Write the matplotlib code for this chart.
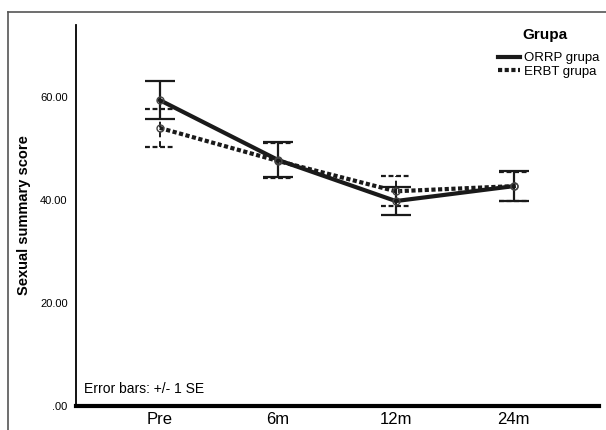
import matplotlib
matplotlib.use("Agg")
import matplotlib.pyplot as plt
from matplotlib.lines import Line2D

# data
times = ["Pre", "6m", "12m", "24m"]
orrp_mean = [59.4, 47.8, 39.8, 42.7]
orrp_se = [3.7, 3.4, 2.8, 2.9]
erbt_mean = [54.0, 47.6, 41.7, 42.7]
erbt_se = [3.7, 3.4, 2.9, 2.8]
yticks = [0, 20, 40, 60]
ytick_labels = [".00", "20.00", "40.00", "60.00"]

plt.rcParams['font.family'] = ['Liberation Sans', 'DejaVu Sans']

fig = plt.figure(figsize=(6.06, 4.30), dpi=100)
ax = fig.add_axes([0.1254, 0.0558, 0.8626, 0.8862])

# outer frame lines
fig.add_artist(Line2D([8 / 606, 8 / 606], [0, 1 - 12 / 430], transform=fig.transFigure,
                      color="#555555", lw=1.2))
fig.add_artist(Line2D([8 / 606, 1], [1 - 12 / 430, 1 - 12 / 430], transform=fig.transFigure,
                      color="#555555", lw=1.2))

x = list(range(len(times)))

# ORRP
ax.errorbar(x, orrp_mean, yerr=orrp_se, fmt="none", ecolor="#1a1a1a", elinewidth=1.6,
            capsize=10.5, capthick=1.6, zorder=3)
ax.plot(x, orrp_mean, color="#1a1a1a", lw=3, ls="-", zorder=4,
        marker="o", ms=5, mfc="none", mec="#444444", mew=1.0)

# ERBT, dashed bars and caps
eb = ax.errorbar(x, erbt_mean, yerr=erbt_se, fmt="none", ecolor="#1a1a1a", elinewidth=1.4,
                 capsize=0, zorder=3)
for c in eb[2]:
    c.set_linestyle((0, (3, 2)))
for xi, m, s in zip(x, erbt_mean, erbt_se):
    for yv in (m - s, m + s):
        ax.plot([xi - 0.125, xi + 0.125], [yv, yv], color="#1a1a1a", lw=1.6,
                ls=(0, (2.2, 1.2)), zorder=3)
ax.plot(x, erbt_mean, color="#1a1a1a", lw=3, ls=(0, (1, 0.6)), zorder=4,
        marker="o", ms=5, mfc="none", mec="#444444", mew=1.0)

ax.set_xlim(-0.71, 3.72)
ax.set_ylim(0, 74)
ax.set_xticks(x)
ax.set_xticklabels(times, fontsize=12)
ax.set_yticks(yticks)
ax.set_yticklabels(ytick_labels, fontsize=8)
ax.tick_params(axis="both", length=0, pad=4)
ax.tick_params(axis="y", pad=6)
ax.spines["top"].set_visible(False)
ax.spines["right"].set_visible(False)
ax.spines["left"].set_linewidth(1.3)
ax.spines["bottom"].set_linewidth(3)
ax.set_ylabel("Sexual summary score", fontsize=10.5, fontweight="bold")
ax.yaxis.set_label_coords(-0.087, 0.5)

ax.text(0.015, 0.025, "Error bars: +/- 1 SE", transform=ax.transAxes, fontsize=10,
        ha="left", va="bottom")

# legend
fig.text(545 / 606, 1 - 35 / 430, "Grupa", fontsize=11, fontweight="bold",
         ha="center", va="center")
handles = [Line2D([], [], color="#1a1a1a", lw=3, ls="-"),
           Line2D([], [], color="#1a1a1a", lw=3, ls=(0, (1, 0.6)))]
ax.legend(handles, ["ORRP grupa", "ERBT grupa"], loc="upper left",
          bbox_to_anchor=(498 / 606, 1 - 52 / 430), bbox_transform=fig.transFigure,
          frameon=False, fontsize=9.5, borderaxespad=0, borderpad=0,
          handlelength=1.7, handletextpad=0.25, labelspacing=0.1)

fig.savefig("out.png", dpi=100)
